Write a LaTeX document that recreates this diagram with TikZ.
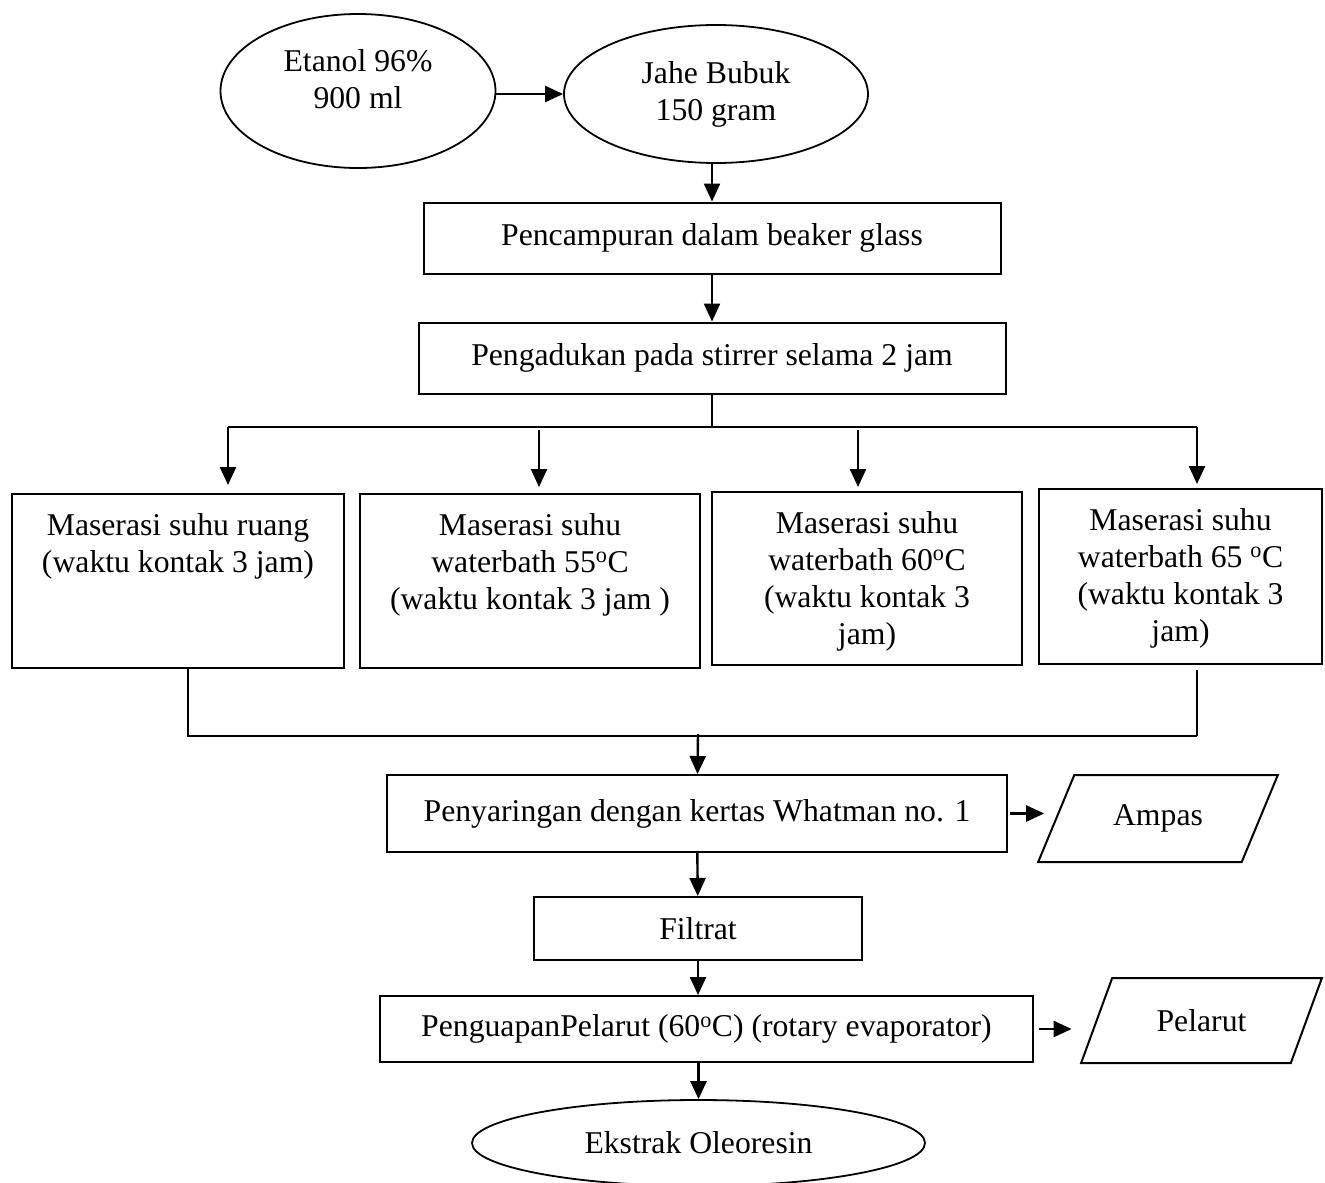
\documentclass[tikz,border=0pt]{standalone}
\usepackage{fontspec}
\setmainfont{Liberation Serif}
\usetikzlibrary{shapes.geometric,arrows.meta,positioning}

\newcommand{\toptext}[3]{\parbox[t][#1][t]{#2}{\centering #3}}
\newcommand{\liftext}[2]{\raisebox{#1}[0pt][0pt]{\begin{tabular}{@{}c@{}}#2\end{tabular}}}

\begin{document}
\begin{tikzpicture}[x=1pt,y=-1pt]
        \tikzstyle{every node} = [font=\fontsize{31.7}{37}\selectfont, inner sep=0pt, align=center];
        \tikzstyle{oval} = [draw, ellipse, line width=1.8pt]
        \tikzstyle{proc} = [draw, rectangle, line width=2pt]
        \tikzstyle{mbox} = [draw, rectangle, line width=2pt, anchor=north west, inner xsep=0pt, inner ysep=19pt]
        \tikzstyle{io} = [draw, trapezium, trapezium left angle=55, trapezium right angle=125, trapezium stretches=true, line width=2pt]
        \tikzstyle{arr} = [line width=2.4pt, -{Triangle[length=18pt,width=16pt]}]
        \tikzstyle{stem} = [line width=2.2pt]
        \tikzstyle{mergeline} = [line width=1.8pt]
        \useasboundingbox (0,0) rectangle (1325,1183);
        \node[oval, minimum width=275, minimum height=154] (etanol) at (358,91) {\liftext{2pt}{Etanol 96\%\\900 ml}};
        \node[oval, minimum width=304, minimum height=138] (jahe) at (716,94) {Jahe Bubuk\\150 gram};
        \node[proc, minimum width=577, minimum height=71] (mix) at (712,238) {Pencampuran dalam beaker glass};
        \node[proc, minimum width=587, minimum height=71] (stir) at (712,358) {Pengadukan pada stirrer selama 2 jam};
        \node[mbox, minimum width=332] (m1) at (11,493) {\toptext{136pt}{322pt}{Maserasi suhu ruang\\(waktu kontak 3 jam)}};
        \node[mbox, minimum width=340] (m2) at (359,493) {\toptext{136pt}{330pt}{Maserasi suhu\\waterbath 55\textsuperscript{o}C\\(waktu kontak 3 jam )}};
        \node[mbox, minimum width=310] (m3) at (711,491) {\toptext{135pt}{300pt}{Maserasi suhu\\waterbath 60\textsuperscript{o}C\\(waktu kontak 3\\jam)}};
        \node[mbox, minimum width=283] (m4) at (1038,488) {\toptext{137pt}{273pt}{Maserasi suhu\\waterbath 65 \textsuperscript{o}C\\(waktu kontak 3\\jam)}};
        \node[proc, minimum width=620, minimum height=77] (filter) at (697,813.5) {Penyaringan dengan kertas Whatman no. 1};
        \node[io, minimum width=240, minimum height=87] (ampas) at (1158,818.5) {Ampas};
        \node[proc, minimum width=328, minimum height=63] (filtrat) at (698,928.5) {Filtrat};
        \node[proc, minimum width=653, minimum height=66] (evap) at (706.5,1029) {PenguapanPelarut (60\textsuperscript{o}C) (rotary evaporator)};
        \node[io, minimum width=241, minimum height=85] (pelarut) at (1201.5,1020.5) {Pelarut};
        \node[oval, minimum width=453, minimum height=86] (ekstrak) at (698.5,1143) {Ekstrak Oleoresin};
        % branch and join points
        \coordinate (split) at (712,427);
        \coordinate (s1) at (228,427);
        \coordinate (s2) at (539,427);
        \coordinate (s3) at (858,427);
        \coordinate (s4) at (1197,427);
        \coordinate (j1) at (188,736);
        \coordinate (j0) at (698,734);
        \coordinate (j4) at (1197,736);
        \draw[arr] (etanol.east |- jahe.west) -- (jahe.west);
        \draw[arr] (jahe.south -| mix.north) -- (mix.north);
        \draw[arr] (mix) -- (stir);
        \draw[stem] (stir) -- (split);
        \draw[stem] (s1) -- (s4);
        \draw[arr, shorten >=8pt] (s1) -- (s1 |- m1.north);
        \draw[arr, shorten <=3pt, shorten >=6pt] (s2) -- (s2 |- m2.north);
        \draw[arr, shorten <=3pt, shorten >=4pt] (s3) -- (s3 |- m3.north);
        \draw[arr, shorten >=4pt] (s4) -- (s4 |- m4.north);
        \draw[mergeline] (m1.south -| j1) -- (j1) -- (j4);
        \draw[mergeline, shorten <=5pt] (m4.south -| j4) -- (j4);
        \draw[arr] (j0) -- (filter);
        \draw[arr, shorten <=2pt, shorten >=11pt] (filter.east) -- (filter.east -| ampas.west);
        \draw[arr] (filter) -- (filtrat);
        \draw[arr] (filtrat) -- (filtrat |- evap.north);
        \draw[arr, shorten <=5pt, shorten >=24pt] (evap.east) -- (evap.east -| pelarut.west);
        \draw[arr] (evap.south -| ekstrak) -- (ekstrak);
\end{tikzpicture}
\end{document}
